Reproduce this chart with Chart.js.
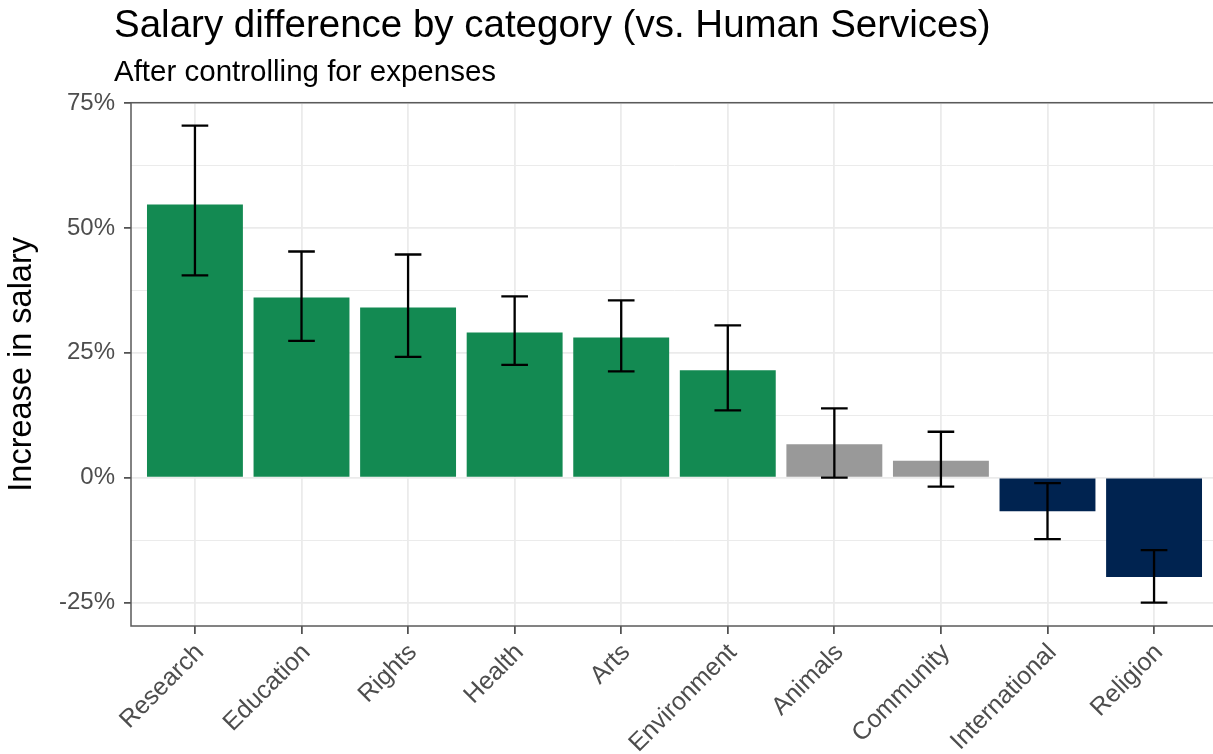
<!DOCTYPE html>
<html>
<head>
<meta charset="utf-8">
<script src="https://cdn.jsdelivr.net/npm/chart.js@4"></script>
<style>
  html, body { margin: 0; padding: 0; overflow: hidden; background: #fff; }
  #wrap { position: relative; width: 1222px; height: 754px; }
</style>
</head>
<body>
<div id="wrap"><canvas id="c"></canvas></div>
<script>
const categories = ['Research','Education','Rights','Health','Arts','Environment','Animals','Community','International','Religion'];
const values = [54.7, 36.1, 34.1, 29.1, 28.1, 21.5, 6.7, 3.4, -6.7, -19.9];
const lowerCI = [40.5, 27.4, 24.2, 22.6, 21.3, 13.5, 0.0, -1.8, -12.3, -25.0];
const upperCI = [70.5, 45.3, 44.7, 36.3, 35.5, 30.5, 13.9, 9.2, -1.1, -14.5];
const groups = ['pos','pos','pos','pos','pos','pos','ns','ns','neg','neg'];
const yTicks = [-25, -12.5, 0, 12.5, 25, 37.5, 50, 62.5, 75];
const titleText = 'Salary difference by category (vs. Human Services)';
const subtitleText = 'After controlling for expenses';
const yTitle = 'Increase in salary';

const groupColors = { pos: '#138A52', ns: '#999999', neg: '#002350' };
const FONT = "'Liberation Sans', Arial, Helvetica, sans-serif";

const headerPlugin = {
  id: 'header',
  afterDraw(chart) {
    const ctx = chart.ctx;
    ctx.save();
    ctx.fillStyle = '#000';
    ctx.textAlign = 'left';
    ctx.textBaseline = 'alphabetic';
    ctx.font = '38.5px ' + FONT;
    ctx.fillText(titleText, 114, 37);
    ctx.font = '29.5px ' + FONT;
    ctx.fillText(subtitleText, 114, 81);
    ctx.restore();
  }
};

const errorBarPlugin = {
  id: 'errorBars',
  afterDatasetsDraw(chart) {
    const ctx = chart.ctx;
    const xs = chart.scales.x, ys = chart.scales.y;
    const half = Math.abs(xs.getPixelForValue(1.125) - xs.getPixelForValue(1));
    ctx.save();
    ctx.strokeStyle = '#000';
    ctx.lineWidth = 2.3;
    ctx.lineCap = 'butt';
    categories.forEach((c, i) => {
      const x = xs.getPixelForValue(i + 1);
      const yl = ys.getPixelForValue(lowerCI[i]);
      const yu = ys.getPixelForValue(upperCI[i]);
      ctx.beginPath();
      ctx.moveTo(x, yl); ctx.lineTo(x, yu);
      ctx.moveTo(x - half, yl); ctx.lineTo(x + half, yl);
      ctx.moveTo(x - half, yu); ctx.lineTo(x + half, yu);
      ctx.stroke();
    });
    ctx.restore();
  },
  afterDraw(chart) {
    const a = chart.chartArea;
    const ctx = chart.ctx;
    ctx.save();
    ctx.strokeStyle = '#5a5a5a';
    ctx.lineWidth = 1.5;
    ctx.strokeRect(a.left, a.top, a.right - a.left, a.bottom - a.top);
    ctx.restore();
  }
};

new Chart(document.getElementById('c'), {
  type: 'bar',
  data: {
    datasets: [{
      data: values.map((v, i) => ({ x: i + 1, y: v })),
      backgroundColor: groups.map(g => groupColors[g]),
      borderWidth: 0,
      barPercentage: 0.9,
      categoryPercentage: 1.0
    }]
  },
  options: {
    responsive: true,
    maintainAspectRatio: false,
    animation: false,
    layout: { padding: { top: 102.7, right: 4, left: 0, bottom: 0 } },
    plugins: { legend: { display: false }, tooltip: { enabled: false } },
    scales: {
      x: {
        type: 'linear',
        min: 0.4,
        max: 10.6,
        offset: false,
        afterBuildTicks(scale) { scale.ticks = categories.map((c, i) => ({ value: i + 1 })); },
        afterFit(scale) { scale.height = 128; },
        ticks: {
          autoSkip: false,
          maxRotation: 45,
          minRotation: 45,
          padding: 4,
          labelOffset: 5,
          color: '#4D4D4D',
          font: { family: FONT, size: 25 },
          callback: (v) => categories[Math.round(v) - 1] || ''
        },
        grid: { offset: false, color: '#EBEBEB', lineWidth: 1.8, tickColor: '#333', tickLength: 8, tickWidth: 1.5 },
        border: { display: false }
      },
      y: {
        type: 'linear',
        min: -29.7,
        max: 75.1,
        afterBuildTicks(scale) { scale.ticks = yTicks.map(v => ({ value: v })); },
        afterFit(scale) { scale.width = 131; },
        ticks: {
          padding: 9,
          color: '#4D4D4D',
          font: { family: FONT, size: 24 },
          callback: (v) => (v % 25 === 0 ? v + '%' : '')
        },
        grid: {
          color: '#EBEBEB',
          lineWidth: (ctx) => (ctx.tick && ctx.tick.value % 25 === 0 ? 1.8 : 1),
          tickColor: (ctx) => (ctx.tick && ctx.tick.value % 25 === 0 ? '#333' : 'rgba(0,0,0,0)'),
          tickLength: 7,
          tickWidth: 1.5
        },
        border: { display: false },
        title: {
          display: true,
          text: yTitle,
          color: '#000',
          font: { family: FONT, size: 32.5 },
          padding: { top: 3, bottom: 0 }
        }
      }
    }
  },
  plugins: [headerPlugin, errorBarPlugin]
});
</script>
</body>
</html>
